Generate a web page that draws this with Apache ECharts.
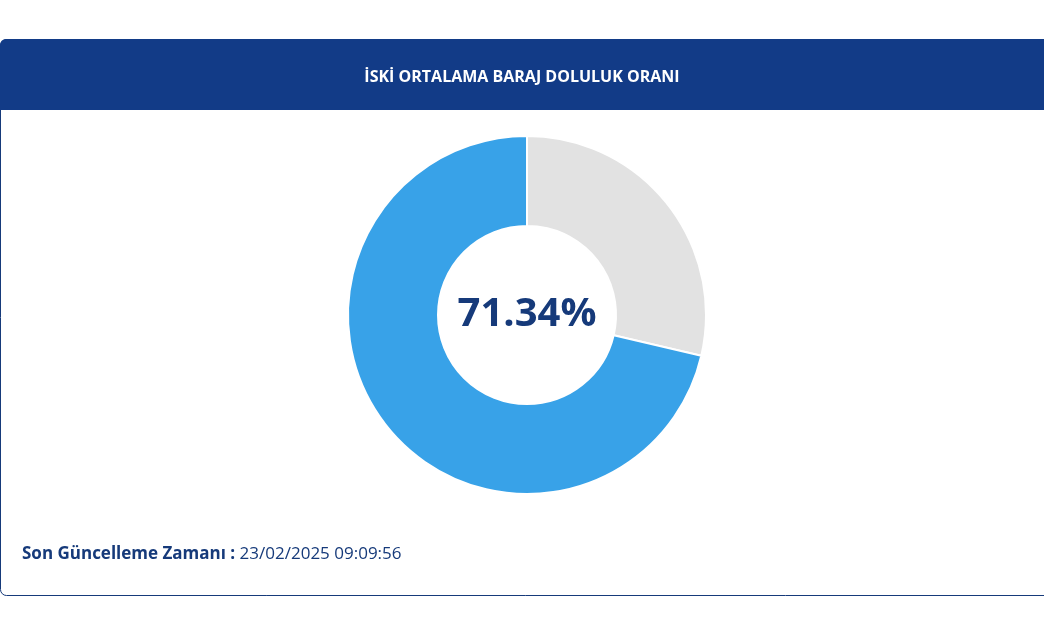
<!DOCTYPE html>
<html lang="tr">
<head>
<meta charset="UTF-8">
<title>İSKİ Baraj Doluluk</title>
<script src="https://cdn.jsdelivr.net/npm/echarts@6/dist/echarts.min.js"></script>
<style>
  html, body { margin: 0; padding: 0; background: #fff; }
  #main { width: 1044px; height: 631px; }
</style>
</head>
<body>
<div id="main"></div>
<script>
// veri
var names = ['Boş', 'Dolu'];
var values = [28.66, 71.34];
var colors = ['#e2e2e2', '#38a2e8'];
var updatedAt = '23/02/2025 09:09:56';

var chart = echarts.init(document.getElementById('main'));

var pieData = names.map(function (n, i) {
  return { name: n, value: values[i], itemStyle: { color: colors[i] } };
});

chart.setOption({
  animation: false,
  graphic: [
    // kart çerçevesi
    { type: 'rect', shape: { x: 0.5, y: 39.5, width: 1060, height: 556, r: 6 },
      style: { fill: '#fff', stroke: '#163a7a', lineWidth: 1 }, z: -2 },
    // başlık bandı
    { type: 'rect', shape: { x: 0, y: 39, width: 1060, height: 71, r: [6, 0, 0, 0] },
      style: { fill: '#123b87' }, z: -1 },
    { type: 'text', left: 22, top: 546,
      style: { text: '{b|Son Güncelleme Zamanı :} ' + updatedAt,
        fill: '#163a7a', font: '17px "Open Sans", sans-serif',
        rich: { b: { fontWeight: 'bold', fontSize: 17, fill: '#163a7a', fontFamily: '"Open Sans", sans-serif' } } } }
  ],
  title: {
    text: 'İSKİ ORTALAMA BARAJ DOLULUK ORANI',
    left: 'center', top: 64,
    textStyle: { color: '#fff', fontSize: 16, fontWeight: 'bold', fontFamily: '"Open Sans", sans-serif' }
  },
  series: [{
    type: 'pie',
    center: [527, 315],
    radius: [89, 179],
    startAngle: 90,
    clockwise: true,
    label: { show: false },
    labelLine: { show: false },
    emphasis: { disabled: true },
    itemStyle: { borderColor: '#fff', borderWidth: 2 },
    data: pieData
  }, {
    type: 'pie',
    center: [527, 315],
    radius: [0, 0],
    silent: true,
    label: {
      show: true, position: 'center',
      formatter: values[1].toFixed(2) + '%',
      color: '#163a7a', fontSize: 40, fontWeight: 'bold', fontFamily: '"Open Sans", sans-serif'
    },
    data: [{ value: 1, itemStyle: { color: 'transparent' } }]
  }]
});
</script>
</body>
</html>
